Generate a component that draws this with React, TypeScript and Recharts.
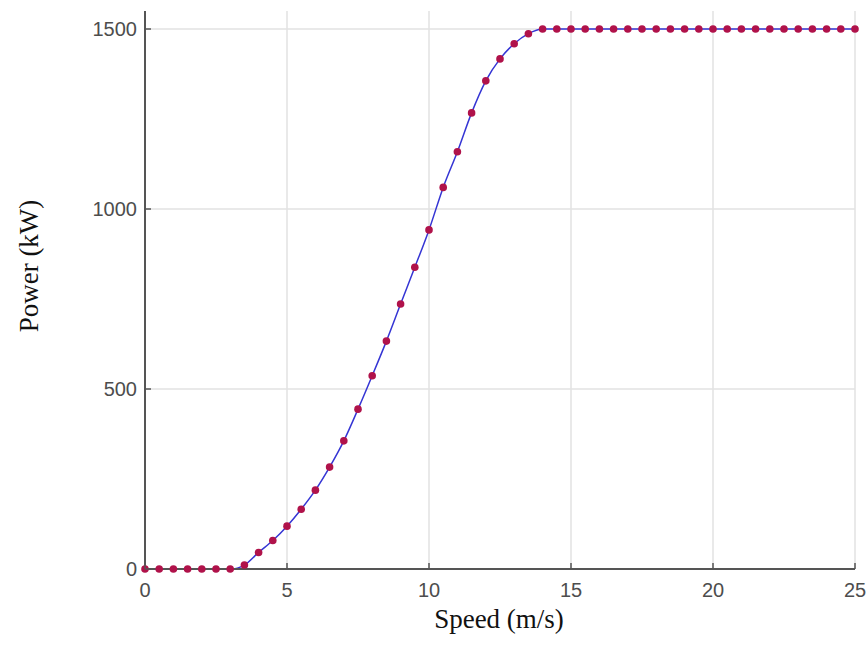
import React from 'react';
import { LineChart, Line, XAxis, YAxis, CartesianGrid, Label } from 'recharts';

const speed = [
  0, 0.5, 1, 1.5, 2, 2.5, 3, 3.5, 4, 4.5, 5, 5.5, 6, 6.5, 7, 7.5, 8, 8.5, 9, 9.5,
  10, 10.5, 11, 11.5, 12, 12.5, 13, 13.5, 14, 14.5, 15, 15.5, 16, 16.5, 17, 17.5,
  18, 18.5, 19, 19.5, 20, 20.5, 21, 21.5, 22, 22.5, 23, 23.5, 24, 24.5, 25,
];
const power = [
  0, 0, 0, 0, 0, 0, 0, 11, 46, 79, 119, 166, 219, 283, 356, 444, 537, 633, 736, 838,
  942, 1060, 1159, 1267, 1356, 1417, 1459, 1487, 1500, 1500, 1500, 1500, 1500, 1500, 1500, 1500,
  1500, 1500, 1500, 1500, 1500, 1500, 1500, 1500, 1500, 1500, 1500, 1500, 1500, 1500, 1500,
];
const xTicks = [0, 5, 10, 15, 20, 25];
const yTicks = [0, 500, 1000, 1500];

const data = speed.map((s, i) => ({ speed: s, power: power[i] }));

const tickFont = '"Liberation Sans", Arial, sans-serif';
const labelFont = '"Liberation Serif", "DejaVu Serif", serif';
const axisColor = '#555';

const YTick = (props: any) => {
  const { x, y, payload } = props;
  return (
    <g>
      <line x1={x + 8} y1={y} x2={x + 14} y2={y} stroke={axisColor} strokeWidth={1.5} />
      <text x={x} y={y} dy="0.35em" textAnchor="end" fontSize={20} fill="#4d4d4d" fontFamily={tickFont}>
        {payload.value}
      </text>
    </g>
  );
};

const XTick = (props: any) => {
  const { x, y, payload } = props;
  return (
    <g>
      <line x1={x} y1={y - 14} x2={x} y2={y - 20} stroke={axisColor} strokeWidth={1.5} />
      <text x={x} y={y} dy="0.72em" textAnchor="middle" fontSize={20} fill="#4d4d4d" fontFamily={tickFont}>
        {payload.value}
      </text>
    </g>
  );
};

const App: React.FC = () => {
  return (
    <div style={{ position: 'absolute', left: 0, top: 0, background: '#fff' }}>
      <LineChart width={867} height={660} data={data} margin={{ top: 11, right: 12, bottom: 31, left: 0 }}>
        <CartesianGrid stroke="#e2e2e2" strokeWidth={1.5} syncWithTicks />
        <XAxis
          dataKey="speed"
          type="number"
          domain={[0, 25]}
          ticks={xTicks}
          height={60}
          tickSize={0}
          tickMargin={14}
          tick={<XTick />}
          axisLine={{ stroke: axisColor, strokeWidth: 2 }}
          tickLine={false}
        >
          <Label
            content={() => (
              <text x={499} y={628} textAnchor="middle" fontSize={27} fill="#111" fontFamily={labelFont}>
                Speed (m/s)
              </text>
            )}
          />
        </XAxis>
        <YAxis
          type="number"
          domain={[0, 1550]}
          ticks={yTicks}
          width={145}
          tickSize={0}
          tickMargin={8}
          tick={<YTick />}
          axisLine={{ stroke: axisColor, strokeWidth: 2 }}
          tickLine={false}
        >
          <Label
            content={() => (
              <text
                x={38}
                y={266}
                transform="rotate(-90 38 266)"
                textAnchor="middle"
                fontSize={27}
                fill="#111"
                fontFamily={labelFont}
              >
                Power (kW)
              </text>
            )}
          />
        </YAxis>
        <Line
          type="monotone"
          dataKey="power"
          stroke="#3535d4"
          strokeWidth={1.5}
          dot={{ r: 3.8, fill: '#b0124a', stroke: 'none' }}
          isAnimationActive={false}
        />
      </LineChart>
    </div>
  );
};

export default App;
